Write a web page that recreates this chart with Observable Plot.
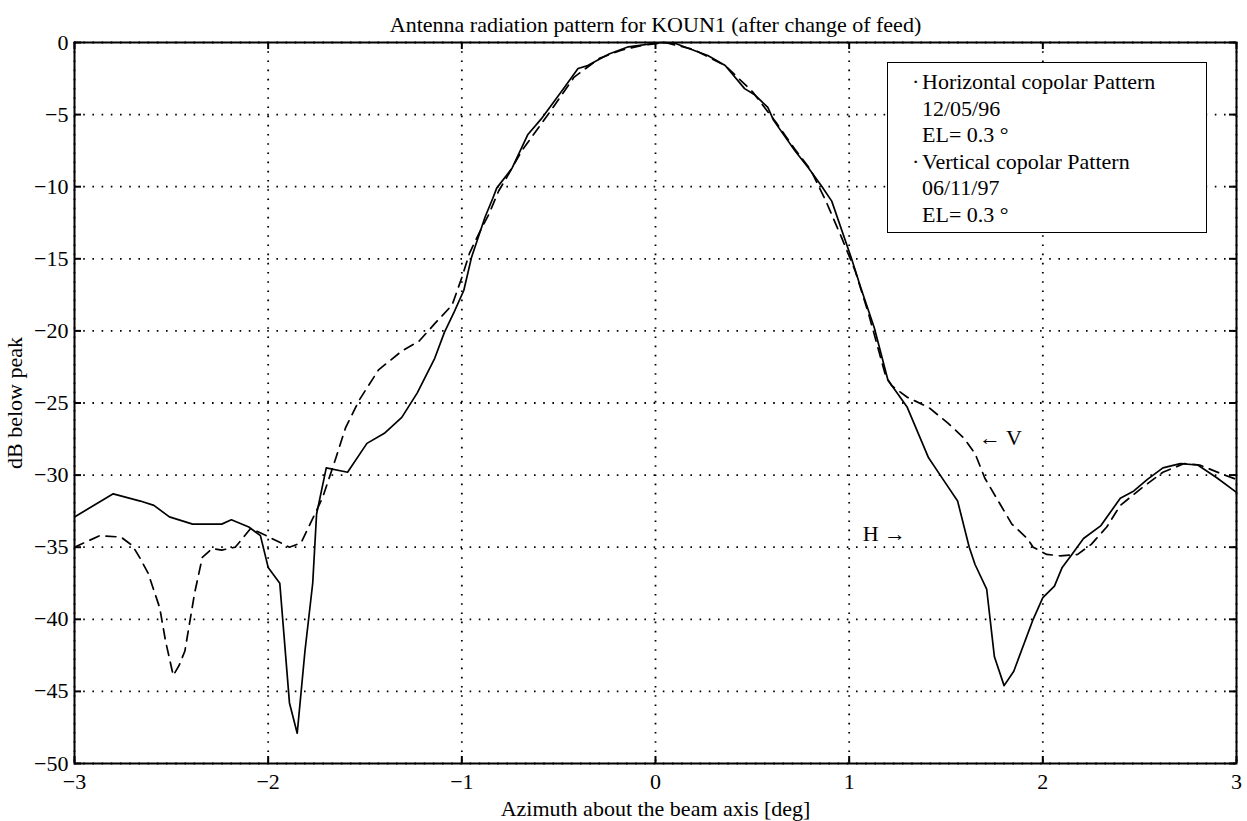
<!DOCTYPE html>
<html>
<head>
<meta charset="utf-8">
<script src="https://cdn.jsdelivr.net/npm/d3@7"></script>
<script src="https://cdn.jsdelivr.net/npm/@observablehq/plot@0.6"></script>
<style>
  html, body { margin: 0; padding: 0; background: #fff; }
  #wrap { position: relative; width: 1247px; height: 821px; font-family: "Liberation Serif", "Times New Roman", serif; }
  #legend { position: absolute; left: 887px; top: 62px; width: 320px; height: 171px; background: #fff; border: 1.6px solid #000; box-sizing: border-box; font-size: 22px; color: #000; padding-top: 6px; }
  #legend div { height: 26.5px; line-height: 26.5px; padding-left: 34px; position: relative; white-space: nowrap; }
  #legend div.first::before { content: "·"; position: absolute; left: 24px; }
</style>
</head>
<body>
<div id="wrap"></div>
<script>
const title = "Antenna radiation pattern for KOUN1 (after change of feed)";
const xLabel = "Azimuth about the beam axis [deg]";
const yLabel = "dB below peak";
const xTicks = [-3, -2, -1, 0, 1, 2, 3];
const yTicks = [0, -5, -10, -15, -20, -25, -30, -35, -40, -45, -50];

// Horizontal copolar pattern (solid), 12/05/96
const hAz = [-3.00,-2.80,-2.66,-2.59,-2.51,-2.39,-2.24,-2.19,-2.10,-2.04,-2.00,-1.94,-1.89,-1.85,-1.81,-1.77,-1.75,-1.70,-1.59,-1.49,-1.40,-1.31,-1.23,-1.14,-1.09,-1.04,-0.99,-0.95,-0.88,-0.84,-0.82,-0.74,-0.66,-0.59,-0.48,-0.40,-0.35,-0.24,-0.14,0.03,0.10,0.20,0.27,0.36,0.46,0.51,0.58,0.61,0.72,0.79,0.86,0.91,1.01,1.06,1.13,1.20,1.30,1.41,1.49,1.56,1.62,1.65,1.71,1.75,1.80,1.85,1.95,2.00,2.06,2.10,2.15,2.21,2.30,2.40,2.47,2.54,2.62,2.71,2.80,2.90,3.00];
const hDb = [-32.9,-31.3,-31.8,-32.1,-32.9,-33.4,-33.4,-33.1,-33.6,-34.2,-36.4,-37.5,-45.8,-47.9,-42.2,-37.5,-32.7,-29.5,-29.8,-27.8,-27.1,-26.0,-24.3,-21.9,-20.1,-18.7,-17.2,-14.9,-12.1,-10.8,-10.1,-8.7,-6.4,-5.3,-3.3,-1.8,-1.6,-0.8,-0.3,0.0,-0.05,-0.55,-0.9,-1.6,-3.2,-3.6,-4.5,-5.4,-7.5,-8.7,-10.0,-11.0,-14.9,-17.0,-19.8,-23.4,-25.3,-28.8,-30.4,-31.8,-35.0,-36.2,-37.9,-42.6,-44.6,-43.6,-40.0,-38.5,-37.7,-36.4,-35.5,-34.4,-33.5,-31.6,-31.1,-30.3,-29.5,-29.2,-29.3,-30.2,-31.2];

// Vertical copolar pattern (dashed), 06/11/97
const vAz = [-3.00,-2.87,-2.76,-2.70,-2.66,-2.62,-2.56,-2.53,-2.49,-2.46,-2.43,-2.38,-2.34,-2.29,-2.24,-2.17,-2.09,-2.01,-1.89,-1.83,-1.72,-1.65,-1.60,-1.53,-1.43,-1.31,-1.22,-1.14,-1.05,-1.00,-0.96,-0.91,-0.86,-0.81,-0.77,-0.69,-0.55,-0.42,-0.29,-0.18,-0.07,0.05,0.20,0.36,0.50,0.62,0.72,0.80,0.88,0.96,1.03,1.10,1.19,1.22,1.30,1.41,1.51,1.59,1.65,1.70,1.77,1.84,1.92,1.95,2.02,2.09,2.18,2.25,2.33,2.40,2.51,2.62,2.73,2.81,2.92,3.00];
const vDb = [-35.0,-34.2,-34.3,-34.9,-35.8,-36.8,-39.2,-41.5,-43.9,-43.2,-42.2,-38.2,-35.7,-35.1,-35.2,-35.0,-33.7,-34.2,-35.0,-34.7,-31.6,-28.8,-26.7,-24.8,-22.7,-21.4,-20.7,-19.5,-18.2,-16.3,-14.6,-13.2,-11.9,-10.3,-9.4,-7.5,-4.9,-2.4,-1.1,-0.55,-0.2,0.0,-0.5,-1.6,-3.4,-5.5,-7.4,-8.8,-11.0,-13.5,-15.8,-18.8,-23.2,-23.8,-24.6,-25.3,-26.4,-27.4,-28.5,-30.2,-31.8,-33.4,-34.4,-35.0,-35.5,-35.6,-35.5,-34.8,-33.6,-32.1,-30.9,-29.8,-29.2,-29.3,-29.9,-30.3];

const annLabels = ["\u2190 V", "H \u2192"];
const annAz = [1.67, 1.07];
const annDb = [-27.4, -34.1];

const legendLines = ["Horizontal copolar Pattern", "12/05/96", "EL= 0.3 \u00b0", "Vertical copolar Pattern", "06/11/97", "EL= 0.3 \u00b0"];

const H = hAz.map((x, i) => ({x, y: hDb[i]}));
const V = vAz.map((x, i) => ({x, y: vDb[i]}));
const ann = annLabels.map((t, i) => ({t, x: annAz[i], y: annDb[i]}));

const W = 1247, Ht = 821;
const mL = 74, mR = 11, mT = 42, mB = 58;
const fw = W - mL - mR, fh = Ht - mT - mB;
const tick = 7;
const fmt = d3.format("d");

const chart = Plot.plot({
  width: W, height: Ht,
  marginLeft: mL, marginRight: mR, marginTop: mT, marginBottom: mB,
  style: {fontFamily: "'Liberation Serif', 'Times New Roman', serif", fontSize: "22px", background: "#fff", color: "#000"},
  x: {domain: [-3, 3], ticks: xTicks},
  y: {domain: [-50, 0], ticks: yTicks},
  marks: [
    Plot.gridX(xTicks, {stroke: "#000", strokeOpacity: 1, strokeWidth: 1.8, strokeDasharray: "1.6,7.6"}),
    Plot.gridY(yTicks, {stroke: "#000", strokeOpacity: 1, strokeWidth: 1.8, strokeDasharray: "1.6,7.6"}),
    Plot.axisX(xTicks, {tickSize: 0, tickPadding: 10, fontSize: 22, tickFormat: fmt, label: null}),
    Plot.axisY(yTicks, {tickSize: 0, tickPadding: 6, fontSize: 22, tickFormat: fmt, label: yLabel, labelAnchor: "center", labelArrow: "none", labelOffset: 68}),
    Plot.tickX(xTicks, {x: d => d, insetTop: fh - tick, stroke: "#000", strokeWidth: 2}),
    Plot.tickX(xTicks, {x: d => d, insetBottom: fh - tick, stroke: "#000", strokeWidth: 2}),
    Plot.tickY(yTicks, {y: d => d, insetRight: fw - tick, stroke: "#000", strokeWidth: 2}),
    Plot.tickY(yTicks, {y: d => d, insetLeft: fw - tick, stroke: "#000", strokeWidth: 2}),
    Plot.line(V, {x: "x", y: "y", stroke: "#000", strokeWidth: 1.7, strokeDasharray: "10,7"}),
    Plot.line(H, {x: "x", y: "y", stroke: "#000", strokeWidth: 1.7}),
    Plot.text(ann, {x: "x", y: "y", text: "t", textAnchor: "start", fontSize: 22, fill: "#000"}),
    Plot.frame({stroke: "#000", strokeWidth: 2}),
    Plot.text([title], {frameAnchor: "top", dy: -26, fontSize: 22, fill: "#000"}),
    Plot.text([xLabel], {frameAnchor: "bottom", dy: 45, fontSize: 22, fill: "#000", lineAnchor: "middle"})
  ]
});

const wrap = document.getElementById("wrap");
wrap.appendChild(chart);
const leg = document.createElement("div");
leg.id = "legend";
legendLines.forEach((t, i) => {
  const d = document.createElement("div");
  d.textContent = t;
  if (i === 0 || i === 3) d.className = "first";
  leg.appendChild(d);
});
wrap.appendChild(leg);
</script>
</body>
</html>
